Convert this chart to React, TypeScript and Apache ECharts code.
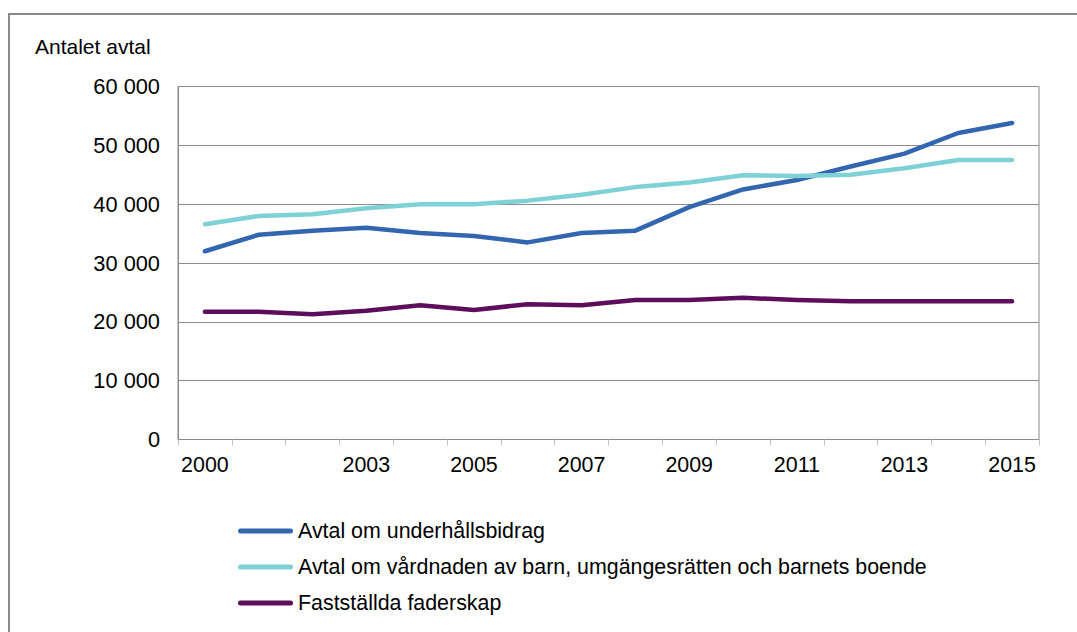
import React, { useEffect, useRef } from "react";
import * as echarts from "echarts";

const years = ["2000","2001","2002","2003","2004","2005","2006","2007","2008","2009","2010","2011","2012","2013","2014","2015"];
const shownYears = ["2000","2003","2005","2007","2009","2011","2013","2015"];
const underhall = [32000,34800,35500,36000,35100,34600,33500,35100,35500,39500,42500,44100,46400,48600,52100,53800];
const vardnad = [36600,38000,38300,39300,40000,40000,40600,41600,42900,43700,44900,44800,45000,46100,47500,47500];
const faderskap = [21700,21700,21300,21900,22800,22000,23000,22800,23700,23700,24100,23700,23500,23500,23500,23500];
const seriesNames = [
  "Avtal om underhållsbidrag",
  "Avtal om vårdnaden av barn, umgängesrätten och barnets boende",
  "Fastställda faderskap",
];
const colors = ["#3366B0", "#7FD1D8", "#5C0E5C"];
const yAxisTitle = "Antalet avtal";

const FONT = "Liberation Sans, Arial, sans-serif";

export default function App() {
  const ref = useRef<HTMLDivElement>(null);
  useEffect(() => {
    if (!ref.current) return;
    const chart = echarts.init(ref.current, null, { renderer: "svg" });
    const data = [underhall, vardnad, faderskap];
    chart.setOption({
      animation: false,
      backgroundColor: "#ffffff",
      textStyle: { fontFamily: FONT },
      graphic: [
        {
          type: "rect",
          shape: { x: 9, y: 14, width: 1200, height: 800 },
          style: { fill: "none", stroke: "#8a8a8a", lineWidth: 2 },
          silent: true,
        },
        {
          type: "text",
          left: 35,
          top: 36,
          style: { text: yAxisTitle, fontSize: 21, fontFamily: FONT, fill: "#000" },
        },
      ],
      grid: {
        left: 178,
        right: 38,
        top: 86.5,
        bottom: 192.5,
        show: true,
        borderColor: "#8a8a8a",
        borderWidth: 1,
      },
      legend: {
        orient: "vertical",
        left: 238,
        top: 520.5,
        padding: 0,
        itemWidth: 55,
        itemHeight: 5,
        itemGap: 15,
        icon: "path://M2.5,0 H52.5 A2.5,2.5 0 0 1 52.5,5 H2.5 A2.5,2.5 0 0 1 2.5,0 Z",
        textStyle: { fontSize: 21.4, color: "#000", fontFamily: FONT },
        data: seriesNames,
      },
      xAxis: {
        type: "category",
        data: years,
        boundaryGap: true,
        axisLine: { lineStyle: { color: "#8a8a8a", width: 1 } },
        axisTick: { show: true, interval: 0, length: 6, lineStyle: { color: "#c4c4c4" } },
        axisLabel: {
          interval: (i: number, v: string) => shownYears.includes(v),
          fontSize: 21.4,
          color: "#000",
          margin: 15,
          fontFamily: FONT,
        },
      },
      yAxis: {
        type: "value",
        min: 0,
        max: 60000,
        interval: 10000,
        axisLine: { show: true, lineStyle: { color: "#8a8a8a" } },
        axisTick: { show: false },
        splitLine: { lineStyle: { color: "#8c8c8c", width: 1 } },
        axisLabel: {
          fontSize: 21.8,
          color: "#000",
          margin: 18,
          fontFamily: FONT,
          formatter: (v: number) => String(v).replace(/\B(?=(\d{3})+(?!\d))/g, " "),
        },
      },
      series: seriesNames.map((name, i) => ({
        name,
        type: "line",
        data: data[i],
        symbol: "none",
        color: colors[i],
        lineStyle: { width: 4.5, color: colors[i], cap: "round", join: "round" },
      })),
    });
    return () => chart.dispose();
  }, []);
  return (
    <div
      ref={ref}
      style={{ position: "absolute", left: 0, top: 0, width: 1077, height: 632 }}
    />
  );
}
